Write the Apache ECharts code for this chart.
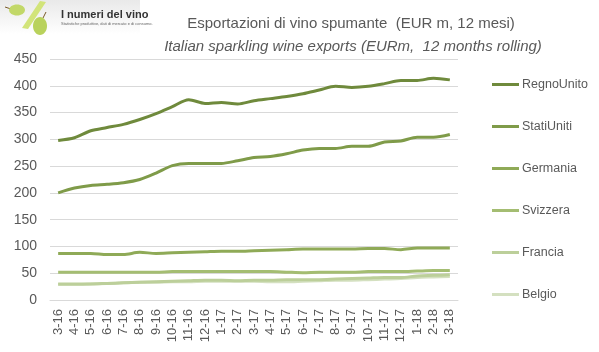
<!DOCTYPE html>
<html>
<head>
<meta charset="utf-8">
<script src="https://cdn.jsdelivr.net/npm/echarts@6/dist/echarts.min.js"></script>
<style>html,body{margin:0;padding:0;background:#fff}#c{width:599px;height:352px}</style>
</head>
<body>
<div id="c"></div>
<script>
var categories = ['3-16','4-16','5-16','6-16','7-16','8-16','9-16','10-16','11-16','12-16','1-17','2-17','3-17','4-17','5-17','6-17','7-17','8-17','9-17','10-17','11-17','12-17','1-18','2-18','3-18'];
var regnoUnito = [298,303,316,322,328,337,348,361,374,367,369,366,372,376,380,385,392,399,397,399,404,410,410,414,411];
var statiUniti = [200,209,214,216,219,225,237,251,255,255,255,260,266,268,273,280,283,283,287,287,295,297,304,304,309];
var germania  = [87,87,87,85,85,89,87,88,89,90,91,91,92,93,94,95,95,95,95,96,96,94,97,97,97];
var svizzera  = [52,52,52,52,52,52,52,53,53,53,53,53,53,53,52,51,52,52,52,53,53,53,54,55,55];
var francia   = [30,30,30,31,32,33,34,35,36,37,37,36,37,37,38,38,38,39,40,41,42,42,45,46,47];
var belgio    = [29,29,30,31,32,33,33,34,34,35,35,35,35,34,34,35,36,37,37,38,39,40,42,43,44];
var seriesNames = ['RegnoUnito','StatiUniti','Germania','Svizzera','Francia','Belgio'];
var seriesData = [regnoUnito, statiUniti, germania, svizzera, francia, belgio];
var colors = ['#6f8a3c','#7f9b49','#8faa57','#a4bd72','#bccf9a','#d4e0c0'];

var chart = echarts.init(document.getElementById('c'));
var FONT = '"Liberation Sans", Arial, sans-serif';
chart.setOption({
  animation: false,
  color: colors,
  textStyle: { fontFamily: FONT },
  grid: { left: 50, right: 141, top: 59, bottom: 52, containLabel: false },
  xAxis: {
    type: 'category', data: categories, boundaryGap: true,
    axisLine: { show: true, lineStyle: { color: '#d9d9d9', width: 1 } },
    axisTick: { show: false },
    axisLabel: { rotate: 90, interval: 0, color: '#595959', fontSize: 13, margin: 9, fontFamily: FONT }
  },
  yAxis: {
    type: 'value', min: 0, max: 450, interval: 50,
    axisLine: { show: false }, axisTick: { show: false },
    splitLine: { lineStyle: { color: '#d9d9d9', width: 1 } },
    axisLabel: { color: '#595959', fontSize: 14, margin: 13, fontFamily: FONT }
  },
  legend: {
    orient: 'vertical', left: 487, top: 73,
    itemWidth: 27, itemHeight: 3, itemGap: 29, icon: 'rect',
    textStyle: { color: '#595959', fontSize: 12.5, fontFamily: FONT, padding: [0,0,0,-2] },
    data: seriesNames
  },
  title: [
    { text: 'Esportazioni di vino spumante  (EUR m, 12 mesi)', left: 346, top: 11, textAlign: 'center',
      textStyle: { color: '#595959', fontSize: 15, fontWeight: 'normal', fontFamily: FONT } },
    { text: 'Italian sparkling wine exports (EURm,  12 months rolling)', left: 348, top: 34, textAlign: 'center',
      textStyle: { color: '#595959', fontSize: 15, fontWeight: 'normal', fontStyle: 'italic', fontFamily: FONT } }
  ],
  graphic: [
    { type: 'rect', left: 0, top: 0, shape: { width: 140, height: 34 },
      style: { fill: new echarts.graphic.LinearGradient(0,0,0,1,[{offset:0,color:'#e9e9e9'},{offset:1,color:'#ffffff'}]) }, z: 0 },
    { type: 'polygon', shape: { points: [[40,1],[46,2],[28,29],[22,28]] }, style: { fill: '#d2e47a' }, z: 1 },
    { type: 'line', shape: { x1: 5, y1: 7, x2: 11, y2: 9 }, style: { stroke: '#7a5a2a', lineWidth: 1 }, z: 1 },
    { type: 'ellipse', shape: { cx: 17, cy: 10, rx: 8, ry: 5.5 }, style: { fill: '#c2d868' }, z: 2 },
    { type: 'line', shape: { x1: 46, y1: 12, x2: 43, y2: 18 }, style: { stroke: '#7a5a2a', lineWidth: 1 }, z: 1 },
    { type: 'ellipse', shape: { cx: 40, cy: 26, rx: 7, ry: 9 }, style: { fill: '#b9d25c' }, z: 2 },
    { type: 'text', left: 61, top: 9, style: { text: 'I numeri del vino', fill: '#333', font: 'bold 11px ' + FONT }, z: 3 },
    { type: 'text', left: 61, top: 22, style: { text: 'Statistiche produttive, dati di mercato e di consumo.', fill: '#666', font: '4px ' + FONT }, z: 3 }
  ],
  series: seriesNames.map(function (n, i) {
    return {
      name: n, type: 'line', data: seriesData[i], smooth: 0.3, showSymbol: false, symbol: 'none',
      lineStyle: { width: 3, color: colors[i] }, itemStyle: { color: colors[i] }, z: 10 - i
    };
  })
});
</script>
</body>
</html>
